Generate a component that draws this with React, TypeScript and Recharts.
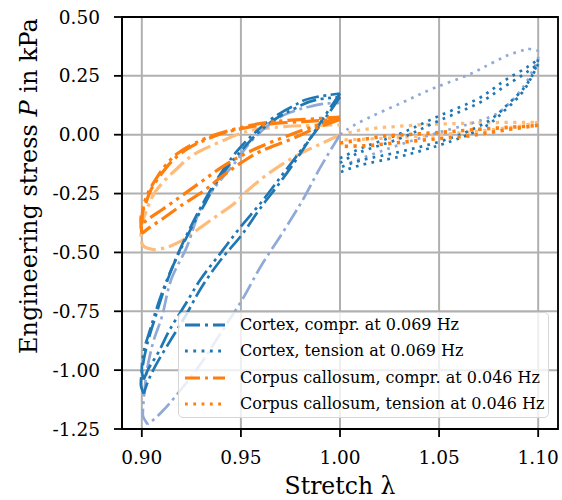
import React from 'react';
import { LineChart, Line, XAxis, YAxis, CartesianGrid, Legend, ReferenceArea } from 'recharts';

type Pt = [number, number];

// ---- axis ticks ----
const xTicks = [0.9, 0.95, 1.0, 1.05, 1.1];
const yTicks = [-1.25, -1.0, -0.75, -0.5, -0.25, 0, 0.25, 0.5];

// ---- Cortex, compression (cycle 1 = light, cycles 2/3 = dark) ----
const cortexComprC1Load: Pt[] = [[1.0, 0.0], [0.99, -0.14], [0.981, -0.28], [0.9715, -0.41], [0.96, -0.56], [0.95, -0.71], [0.94, -0.84], [0.93, -0.97], [0.92, -1.08], [0.912, -1.16], [0.906, -1.21], [0.903, -1.23]];
const cortexComprC1Unload: Pt[] = [[0.903, -1.23], [0.9005, -1.19], [0.901, -1.12], [0.9035, -0.96], [0.9065, -0.86], [0.9095, -0.79], [0.9155, -0.6], [0.922, -0.49], [0.932, -0.28], [0.939, -0.2], [0.946, -0.13], [0.955, -0.03], [0.965, 0.047], [0.975, 0.095], [0.985, 0.12], [0.994, 0.133], [1.0, 0.135]];
const cortexComprC2Load: Pt[] = [[1.0, 0.175], [0.99, 0.05], [0.98, -0.08], [0.97, -0.2], [0.96, -0.31], [0.95, -0.43], [0.94, -0.53], [0.93, -0.65], [0.922, -0.77], [0.914, -0.88], [0.907, -0.98], [0.903, -1.05], [0.901, -1.1]];
const cortexComprC2Unload: Pt[] = [[0.901, -1.1], [0.8995, -1.06], [0.9005, -0.98], [0.903, -0.88], [0.907, -0.77], [0.912, -0.64], [0.917, -0.53], [0.923, -0.42], [0.929, -0.32], [0.935, -0.23], [0.941, -0.15], [0.948, -0.07], [0.956, 0.0], [0.966, 0.07], [0.976, 0.12], [0.988, 0.16], [1.0, 0.175]];
const cortexComprC3Load: Pt[] = [[1.0, 0.16], [0.99, 0.04], [0.98, -0.07], [0.97, -0.18], [0.96, -0.29], [0.95, -0.39], [0.94, -0.5], [0.93, -0.61], [0.922, -0.72], [0.914, -0.83], [0.908, -0.93], [0.903, -1.0], [0.901, -1.04]];
const cortexComprC3Unload: Pt[] = [[0.901, -1.04], [0.9, -1.0], [0.901, -0.92], [0.9045, -0.82], [0.909, -0.7], [0.914, -0.59], [0.92, -0.48], [0.926, -0.38], [0.932, -0.29], [0.938, -0.2], [0.944, -0.13], [0.951, -0.06], [0.959, 0.01], [0.968, 0.07], [0.978, 0.115], [0.989, 0.15], [1.0, 0.16]];

// ---- Corpus callosum, compression ----
const callosumComprC1Load: Pt[] = [[1.0, 0.0], [0.99, -0.04], [0.98, -0.08], [0.97, -0.13], [0.96, -0.19], [0.953, -0.24], [0.947, -0.29], [0.937, -0.35], [0.927, -0.41], [0.919, -0.455], [0.912, -0.48], [0.907, -0.49]];
const callosumComprC1Unload: Pt[] = [[0.907, -0.49], [0.902, -0.48], [0.9, -0.46], [0.8995, -0.4], [0.902, -0.33], [0.907, -0.24], [0.912, -0.19], [0.917, -0.15], [0.927, -0.08], [0.941, -0.025], [0.95, 0.005], [0.96, 0.025], [0.97, 0.033], [0.98, 0.038], [0.99, 0.04], [1.0, 0.042]];
const callosumComprC2Load: Pt[] = [[1.0, 0.065], [0.99, 0.035], [0.975, -0.02], [0.96, -0.07], [0.95, -0.12], [0.94, -0.18], [0.931, -0.24], [0.92, -0.3], [0.91, -0.36], [0.903, -0.4], [0.9, -0.42]];
const callosumComprC2Unload: Pt[] = [[0.9, -0.42], [0.8995, -0.36], [0.902, -0.29], [0.9055, -0.22], [0.9105, -0.16], [0.9155, -0.11], [0.924, -0.055], [0.934, -0.015], [0.947, 0.02], [0.96, 0.04], [0.97, 0.05], [0.98, 0.055], [0.99, 0.06], [1.0, 0.065]];
const callosumComprC3Load: Pt[] = [[1.0, 0.075], [0.99, 0.045], [0.975, 0.0], [0.96, -0.05], [0.95, -0.09], [0.94, -0.14], [0.93, -0.2], [0.92, -0.26], [0.91, -0.32], [0.903, -0.36], [0.9, -0.38]];
const callosumComprC3Unload: Pt[] = [[0.9, -0.38], [0.9005, -0.32], [0.903, -0.25], [0.907, -0.19], [0.912, -0.13], [0.918, -0.08], [0.927, -0.035], [0.937, 0.0], [0.95, 0.03], [0.962, 0.05], [0.972, 0.06], [0.982, 0.065], [0.991, 0.07], [1.0, 0.075]];

// ---- Cortex, tension ----
const cortexTensC1Load: Pt[] = [[1.0, 0.0], [1.007, 0.04], [1.014, 0.07], [1.031, 0.135], [1.048, 0.2], [1.065, 0.255], [1.078, 0.31], [1.087, 0.345], [1.095, 0.365]];
const cortexTensC1Unload: Pt[] = [[1.095, 0.365], [1.1, 0.355], [1.1, 0.33], [1.097, 0.27], [1.093, 0.21], [1.085, 0.13], [1.077, 0.08], [1.065, 0.045], [1.05, 0.01], [1.031, -0.04], [1.011, -0.1], [1.003, -0.125]];
const cortexTensC2Load: Pt[] = [[1.0, -0.1], [1.01, -0.06], [1.029, 0.0], [1.05, 0.08], [1.069, 0.15], [1.084, 0.235], [1.095, 0.29], [1.1, 0.32]];
const cortexTensC2Unload: Pt[] = [[1.1, 0.32], [1.098, 0.27], [1.093, 0.2], [1.086, 0.14], [1.071, 0.04], [1.05, -0.03], [1.029, -0.075], [1.01, -0.11], [1.0, -0.14]];
const cortexTensC3Load: Pt[] = [[1.0, -0.12], [1.01, -0.075], [1.029, -0.02], [1.05, 0.06], [1.069, 0.13], [1.084, 0.21], [1.095, 0.27], [1.1, 0.3]];
const cortexTensC3Unload: Pt[] = [[1.1, 0.3], [1.097, 0.25], [1.092, 0.18], [1.084, 0.11], [1.07, 0.02], [1.05, -0.045], [1.029, -0.095], [1.01, -0.13], [1.0, -0.16]];

// ---- Corpus callosum, tension ----
const callosumTensC1Load: Pt[] = [[1.0, 0.0], [1.01, 0.02], [1.02, 0.03], [1.04, 0.042], [1.06, 0.048], [1.08, 0.052], [1.1, 0.053]];
const callosumTensC1Unload: Pt[] = [[1.1, 0.053], [1.09, 0.035], [1.07, 0.015], [1.05, 0.0], [1.03, -0.012], [1.01, -0.02], [1.0, -0.022]];
const callosumTensC2Load: Pt[] = [[1.0, -0.035], [1.023, -0.005], [1.048, 0.008], [1.073, 0.025], [1.098, 0.038], [1.1, 0.04]];
const callosumTensC2Unload: Pt[] = [[1.1, 0.04], [1.087, 0.025], [1.065, -0.005], [1.039, -0.025], [1.014, -0.047], [1.0, -0.05]];

// ---- legend labels ----
const legendLabels = [
  'Cortex, compr. at 0.069 Hz',
  'Cortex, tension at 0.069 Hz',
  'Corpus callosum, compr. at 0.046 Hz',
  'Corpus callosum, tension at 0.046 Hz',
];

const BLUE = '#1f77b4';
const BLUE_LIGHT = '#8fa9d8';
const ORANGE = '#ff7f0e';
const ORANGE_LIGHT = '#ffbb78';
const FONT = "'DejaVu Serif', serif";

const DASHDOT_B = '17 4.5 3 4.5';
const DASHDOTDOT_B = '17 4.5 3 4.5 3 4.5';
const DOT_B = '2.7 5.3';
const DASHDOT_O = '18 5 3.3 5';
const DASHDOTDOT_O = '18 5 3.3 5 3.3 5';
const DOT_O = '3.3 5.4';

type Series = { id: string; pts: Pt[]; color: string; dash: string; w: number; curve: any };

const series: Series[] = [
  { id: 'ccl1', pts: callosumComprC1Load, color: ORANGE_LIGHT, dash: DASHDOT_O, w: 3.2, curve: 'monotoneY' },
  { id: 'ccu1', pts: callosumComprC1Unload, color: ORANGE_LIGHT, dash: DASHDOT_O, w: 3.2, curve: 'monotoneY' },
  { id: 'ctl1', pts: callosumTensC1Load, color: ORANGE_LIGHT, dash: DOT_O, w: 3.2, curve: 'linear' },
  { id: 'ctu1', pts: callosumTensC1Unload, color: ORANGE_LIGHT, dash: DOT_O, w: 3.2, curve: 'linear' },
  { id: 'xcl1', pts: cortexComprC1Load, color: BLUE_LIGHT, dash: DASHDOT_B, w: 2.7, curve: 'monotoneY' },
  { id: 'xcu1', pts: cortexComprC1Unload, color: BLUE_LIGHT, dash: DASHDOT_B, w: 2.7, curve: 'monotoneY' },
  { id: 'xtl1', pts: cortexTensC1Load, color: BLUE_LIGHT, dash: DOT_B, w: 2.7, curve: 'monotoneY' },
  { id: 'xtu1', pts: cortexTensC1Unload, color: BLUE_LIGHT, dash: DOT_B, w: 2.7, curve: 'monotoneY' },
  { id: 'xcl2', pts: cortexComprC2Load, color: BLUE, dash: DASHDOT_B, w: 2.7, curve: 'monotoneY' },
  { id: 'xcu2', pts: cortexComprC2Unload, color: BLUE, dash: DASHDOT_B, w: 2.7, curve: 'monotoneY' },
  { id: 'xcl3', pts: cortexComprC3Load, color: BLUE, dash: DASHDOTDOT_B, w: 2.7, curve: 'monotoneY' },
  { id: 'xcu3', pts: cortexComprC3Unload, color: BLUE, dash: DASHDOTDOT_B, w: 2.7, curve: 'monotoneY' },
  { id: 'xtl2', pts: cortexTensC2Load, color: BLUE, dash: DOT_B, w: 2.7, curve: 'monotoneY' },
  { id: 'xtu2', pts: cortexTensC2Unload, color: BLUE, dash: DOT_B, w: 2.7, curve: 'monotoneY' },
  { id: 'xtl3', pts: cortexTensC3Load, color: BLUE, dash: DOT_B, w: 2.7, curve: 'monotoneY' },
  { id: 'xtu3', pts: cortexTensC3Unload, color: BLUE, dash: DOT_B, w: 2.7, curve: 'monotoneY' },
  { id: 'ccl2', pts: callosumComprC2Load, color: ORANGE, dash: DASHDOT_O, w: 3.2, curve: 'monotoneY' },
  { id: 'ccu2', pts: callosumComprC2Unload, color: ORANGE, dash: DASHDOT_O, w: 3.2, curve: 'monotoneY' },
  { id: 'ccl3', pts: callosumComprC3Load, color: ORANGE, dash: DASHDOTDOT_O, w: 3.2, curve: 'monotoneY' },
  { id: 'ccu3', pts: callosumComprC3Unload, color: ORANGE, dash: DASHDOTDOT_O, w: 3.2, curve: 'monotoneY' },
  { id: 'ctl2', pts: callosumTensC2Load, color: ORANGE, dash: DOT_O, w: 3.6, curve: 'linear' },
  { id: 'ctu2', pts: callosumTensC2Unload, color: ORANGE, dash: DOT_O, w: 3.6, curve: 'linear' },
];

const legendStyles = [
  { color: BLUE, dash: '15 5 3 5' },
  { color: BLUE, dash: '2.8 5.5' },
  { color: ORANGE, dash: '15 5 3 5' },
  { color: ORANGE, dash: '2.8 5.5' },
];

const LegendBox = () => (
  <div
    style={{
      position: 'relative',
      width: 371,
      height: 106,
      boxSizing: 'border-box',
      border: '1.5px solid #d6d6d6',
      borderRadius: 5,
      background: 'rgba(255,255,255,0.8)',
      fontFamily: FONT,
      fontSize: 16,
      color: '#000',
    }}
  >
    {legendLabels.map((lab, i) => {
      const cy = 12 + i * 26.3;
      return (
        <React.Fragment key={lab}>
          <svg width={42} height={8} style={{ position: 'absolute', left: 6, top: cy - 4 }}>
            <line x1={0} x2={40} y1={4} y2={4} stroke={legendStyles[i].color} strokeWidth={2.8} strokeDasharray={legendStyles[i].dash} />
          </svg>
          <span style={{ position: 'absolute', left: 61, top: cy - 10, lineHeight: '20px', whiteSpace: 'nowrap' }}>{lab}</span>
        </React.Fragment>
      );
    })}
  </div>
);

const XLabel = () => (
  <text x={340} y={494} textAnchor="middle" fontFamily={FONT} fontSize={23.5} fill="#000">
    Stretch λ
  </text>
);

const YLabel = () => (
  <text x={37} y={186} transform="rotate(-90 37 186)" textAnchor="middle" fontFamily={FONT} fontSize={24} fill="#000">
    Engineering stress <tspan fontStyle="italic">P</tspan> in kPa
  </text>
);

const tickStyle = { fontSize: 18.5, fill: '#000', fontFamily: FONT };

export default function App() {
  return (
    <div style={{ position: 'fixed', left: 0, top: 0, width: 562, height: 500, background: '#fff' }}>
      <LineChart width={562} height={500} margin={{ top: 17, right: 4, left: 0, bottom: 0 }}>
        <CartesianGrid stroke="#b0b0b0" strokeWidth={2} />
        <XAxis
          type="number"
          dataKey="x"
          domain={[0.89, 1.11]}
          allowDataOverflow
          ticks={xTicks}
          tickFormatter={(v: number) => v.toFixed(2)}
          height={71}
          tickSize={8}
          tickMargin={14}
          axisLine={{ stroke: '#000', strokeWidth: 1.8 }}
          tickLine={{ stroke: '#000', strokeWidth: 1.8 }}
          tick={tickStyle}
          interval={0}
          label={<XLabel />}
        />
        <YAxis
          type="number"
          domain={[-1.25, 0.5]}
          allowDataOverflow
          ticks={yTicks}
          tickFormatter={(v: number) => v.toFixed(2)}
          width={122}
          tickSize={8}
          tickMargin={14}
          axisLine={{ stroke: '#000', strokeWidth: 1.8 }}
          tickLine={{ stroke: '#000', strokeWidth: 1.8 }}
          tick={tickStyle}
          interval={0}
          label={<YLabel />}
        />
        <ReferenceArea x1={0.89} x2={1.11} y1={-1.25} y2={0.5} fill="none" stroke="#000" strokeWidth={1.8} />
        {series.map((s) => (
          <Line
            key={s.id}
            data={s.pts.map(([x, y]) => ({ x, y }))}
            dataKey="y"
            type={s.curve}
            stroke={s.color}
            strokeWidth={s.w}
            strokeDasharray={s.dash}
            dot={false}
            activeDot={false}
            legendType="none"
            isAnimationActive={false}
          />
        ))}
        <Legend
          layout="horizontal"
          verticalAlign="middle"
          align="center"
          content={() => <LegendBox />}
          wrapperStyle={{ left: 178, top: 312, width: 371, height: 106 }}
        />
      </LineChart>
    </div>
  );
}
